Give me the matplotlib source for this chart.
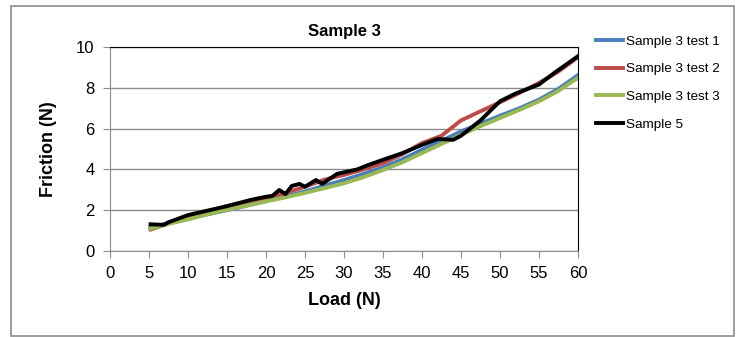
import matplotlib
matplotlib.use("Agg")
import matplotlib.pyplot as plt
from matplotlib.patches import Rectangle

plt.rcParams['font.family'] = ['Liberation Sans', 'DejaVu Sans']

title = "Sample 3"
xlabel = "Load (N)"
ylabel = "Friction (N)"
series_names = ["Sample 3 test 1", "Sample 3 test 2", "Sample 3 test 3", "Sample 5"]
series_colors = ["#4a7ebb", "#be4b48", "#98b954", "#000000"]

load_t1 = [5.2, 7.5, 10, 12.5, 15, 17.5, 20, 22.5, 25, 27.5, 30, 32.5, 35, 37.5, 40, 42.5, 45, 47.5, 50, 52.5, 55, 57.5, 60]
fric_t1 = [1.15, 1.38, 1.6, 1.8, 2.0, 2.22, 2.45, 2.68, 2.92, 3.2, 3.48, 3.78, 4.1, 4.5, 4.96, 5.4, 5.86, 6.25, 6.63, 7.0, 7.42, 7.95, 8.62]

load_t2 = [5.2, 7.5, 10, 12.5, 15, 17.5, 20, 22.5, 25, 27.5, 30, 32.5, 35, 37.5, 40, 42.5, 45, 47.5, 50, 52.5, 55, 57.5, 60]
fric_t2 = [1.05, 1.35, 1.63, 1.9, 2.2, 2.4, 2.6, 2.85, 3.15, 3.5, 3.73, 4.0, 4.3, 4.75, 5.29, 5.65, 6.4, 6.85, 7.29, 7.75, 8.24, 8.8, 9.5]

load_t3 = [5.2, 7.5, 10, 12.5, 15, 17.5, 20, 22.5, 25, 27.5, 30, 32.5, 35, 37.5, 40, 42.5, 45, 47.5, 50, 52.5, 55, 57.5, 60]
fric_t3 = [1.1, 1.33, 1.55, 1.8, 2.02, 2.22, 2.43, 2.63, 2.85, 3.08, 3.32, 3.62, 3.97, 4.35, 4.8, 5.25, 5.7, 6.12, 6.52, 6.92, 7.34, 7.85, 8.49]

load_s5 = [5.2, 6.9, 7.5, 10, 12.5, 15, 18, 20, 20.8, 21.7, 22.5, 23.3, 24.3, 25, 26.4, 27.2, 28.3, 29.1, 30.4, 31.7, 33, 35, 37.5, 40, 42, 44, 45, 47.5, 50, 52, 55, 57, 60]
fric_s5 = [1.31, 1.28, 1.41, 1.76, 1.98, 2.2, 2.5, 2.66, 2.7, 2.99, 2.79, 3.19, 3.29, 3.15, 3.48, 3.29, 3.57, 3.78, 3.89, 4.0, 4.2, 4.47, 4.8, 5.2, 5.49, 5.45, 5.65, 6.4, 7.34, 7.72, 8.16, 8.74, 9.55]

xs = [load_t1, load_t2, load_t3, load_s5]
ys = [fric_t1, fric_t2, fric_t3, fric_s5]

fig = plt.figure(figsize=(7.4, 3.37), dpi=100)
ax = fig.add_axes([110/740, 1-251/337, 468/740, 204/337])

for x, y, c, n in zip(xs, ys, series_colors, series_names):
    ax.plot(x, y, color=c, lw=2.8, label=n, solid_joinstyle='round')

ax.set_xlim(0, 60)
ax.set_ylim(0, 10)
ax.set_xticks(range(0, 61, 5))
ax.set_yticks(range(0, 11, 2))
ax.grid(axis='y', color='#8c8c8c', lw=1)
ax.set_axisbelow(True)
for s in ['left', 'bottom']:
    ax.spines[s].set_color('#8c8c8c')
for s in ['top', 'right']:
    ax.spines[s].set_color('#000000')
ax.tick_params(direction='out', length=5, color='#8c8c8c', labelsize=12, pad=6)
ax.set_title(title, fontsize=12, fontweight='bold', pad=8)
ax.set_xlabel(xlabel, fontsize=13, fontweight='bold', labelpad=8)
ax.set_ylabel(ylabel, fontsize=13, fontweight='bold', labelpad=14)

leg = ax.legend(loc='upper left', bbox_to_anchor=(591/740, 1-30/337), bbox_transform=fig.transFigure,
                frameon=False, fontsize=9.7, handlelength=2.0, handletextpad=0.2, labelspacing=1.13, borderaxespad=0)

fig.patches.append(Rectangle((10.5/740, 1-336/337), 723/740, 330/337, transform=fig.transFigure,
                             fill=False, edgecolor='#8c8c8c', lw=1.2))

fig.savefig("out.png", dpi=100, facecolor='white')
